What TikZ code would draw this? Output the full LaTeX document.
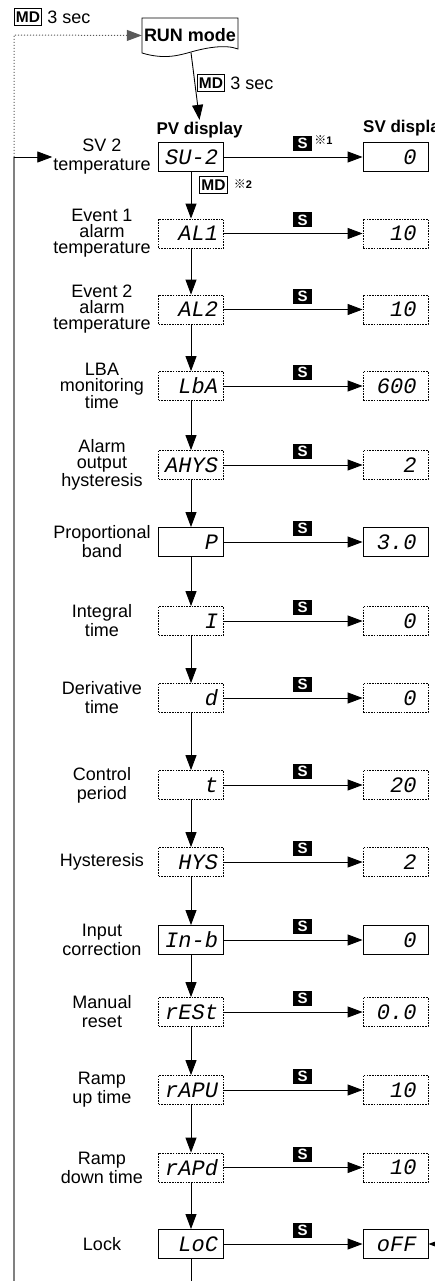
\documentclass[tikz,border=0pt]{standalone}
\usepackage{fontspec}
\setmainfont{Liberation Sans}
\newfontfamily\segfont{Liberation Mono}
\newfontfamily\cjkfont{Noto Sans CJK JP}
\usetikzlibrary{arrows.meta}
\tikzset{
  lbl/.style={font=\fontsize{18}{19}\selectfont, align=center, inner sep=1pt},
  lblc/.style={font=\fontsize{18}{16}\selectfont, align=center, inner sep=1pt},
  head/.style={font=\bfseries\fontsize{17}{17}\selectfont, inner sep=1pt},
  pvbox/.style={text width=54pt, align=right, inner xsep=5.5pt, minimum height=29pt,
    font=\segfont\itshape\fontsize{22}{22}\selectfont, line width=0.9pt},
  svbox/.style={text width=42pt, align=right, inner xsep=11.5pt, minimum height=29pt,
    font=\segfont\itshape\fontsize{22}{22}\selectfont, line width=0.9pt},
  sbox/.style={draw},
  dbox/.style={draw, dash pattern=on 1.6pt off 1.1pt, line width=0.8pt},
  sbtn/.style={fill=black, text=white, font=\bfseries\fontsize{15}{15}\selectfont,
    minimum width=19pt, minimum height=15pt, inner sep=0pt},
  mdbox/.style={draw, line width=0.9pt, font=\bfseries\fontsize{15.5}{15.5}\selectfont,
    inner xsep=1.6pt, inner ysep=0pt, minimum height=17.5pt},
  note/.style={inner sep=0pt},
  arr/.style={-{Triangle[length=15pt,width=11pt]}, line width=0.9pt},
  leftline/.style={line width=1.8pt, draw=black!50},
  dotline/.style={line width=1pt, draw=black!65, dash pattern=on 1.2pt off 1.8pt},
}
\newcommand{\refmark}[1]{{\cjkfont\fontsize{12}{12}\selectfont ※}{\bfseries\fontsize{11}{11}\selectfont #1}}
\begin{document}
\begin{tikzpicture}[x=1pt,y=-1pt]
\useasboundingbox (0,0) rectangle (434,1281);

% top MD 3 sec
\node[mdbox] (md0) at (28,17) {MD};
\node[lbl, anchor=west] (md0t) at ([xshift=4pt]md0.east) {3 sec};

% RUN mode
\node[head, font=\bfseries\fontsize{18}{18}\selectfont, minimum width=96pt, minimum height=35pt] (run) at (190,35.5) {RUN mode};
\draw[line width=0.8pt] (142,53) .. controls (165,60) and (180,55) .. (191,52)
  .. controls (205,48) and (225,44) .. (238,49) -- (238,18) -- (142,18) -- cycle;
\coordinate (runbot) at (191,52.5);

\node[mdbox] (md1) at (211,83) {MD};
\node[lbl, anchor=west] (md1t) at ([xshift=4pt]md1.east) {3 sec};

% headings
\node[head] (pvh) at (199.5,130) {PV display};
\node[head, anchor=west] (svh) at (362,128) {SV display};

% rows
\foreach \n/\y/\lab/\ls/\pv/\sv/\bs in {
  r1/157/{SV 2\\temperature}/lbl/SU-2/0/sbox,
  r2/233.5/{Event 1\\alarm\\temperature}/lblc/AL1/10/dbox,
  r3/309.5/{Event 2\\alarm\\temperature}/lblc/AL2/10/dbox,
  r4/386/{LBA\\monitoring\\time}/lblc/LbA/600/dbox,
  r5/465/{Alarm\\output\\hysteresis}/lblc/AHYS/2/dbox,
  r6/542/{Proportional\\band}/lbl/P/3.0/sbox,
  r7/621/{Integral\\time}/lbl/I/0/dbox,
  r8/698/{Derivative\\time}/lbl/d/0/dbox,
  r9/785/{Control\\period}/lbl/t/20/dbox,
  r10/862/{Hysteresis}/lbl/HYS/2/dbox,
  r11/940/{Input\\correction}/lbl/In-b/0/sbox,
  r12/1012/{Manual\\reset}/lbl/rESt/0.0/dbox,
  r13/1090/{Ramp\\up time}/lbl/rAPU/10/dbox,
  r14/1167.5/{Ramp\\down time}/lbl/rAPd/10/dbox,
  r15/1244/{Lock}/lbl/LoC/oFF/sbox}
{
  \node[\ls] (lab\n) at (102,\y) {\lab};
  \node[pvbox, \bs] (pv\n) at (191,\y) {\pv};
  \node[svbox, \bs] (sv\n) at (395.5,\y) {\sv};
  \node[sbtn] (s\n) at (302.5,\y-13.5) {S};
  \draw[arr] (pv\n.east) -- (sv\n.west);
}

\foreach \a/\b in {r1/r2,r2/r3,r3/r4,r4/r5,r5/r6,r6/r7,r7/r8,r8/r9,r9/r10,r10/r11,r11/r12,r12/r13,r13/r14,r14/r15}
  \draw[arr] (pv\a.south) -- (pv\b.north);

\draw[arr] (runbot) -- ([yshift=1pt]pvh.north);

% notes
\node[note, anchor=west] (n1) at ([xshift=2pt,yshift=3pt]sr1.east) {\refmark{1}};
\node[mdbox] (md2) at (213.5,185) {MD};
\node[note, anchor=west] (n2) at ([xshift=6pt,yshift=1pt]md2.east) {\refmark{2}};

% bottom continuation
\coordinate (bot) at (191,1290);
\draw[line width=0.9pt] (pvr15.south) -- (bot);

% incoming arrow to oFF
\coordinate (offin) at (452,1244);
\draw[arr] (offin) -- (svr15.east);

% left return loop
\coordinate (lb) at (14,1290);
\coordinate (lj) at (14,157);
\coordinate (ltop) at (14,35);
\draw[dotline, -{Triangle[length=15pt,width=11pt]}] (lj) -- (ltop) -- (run.west);
\draw[leftline] (lb) -- (lj);
\draw[arr] (lj) -- (labr1.west);
\end{tikzpicture}
\end{document}
